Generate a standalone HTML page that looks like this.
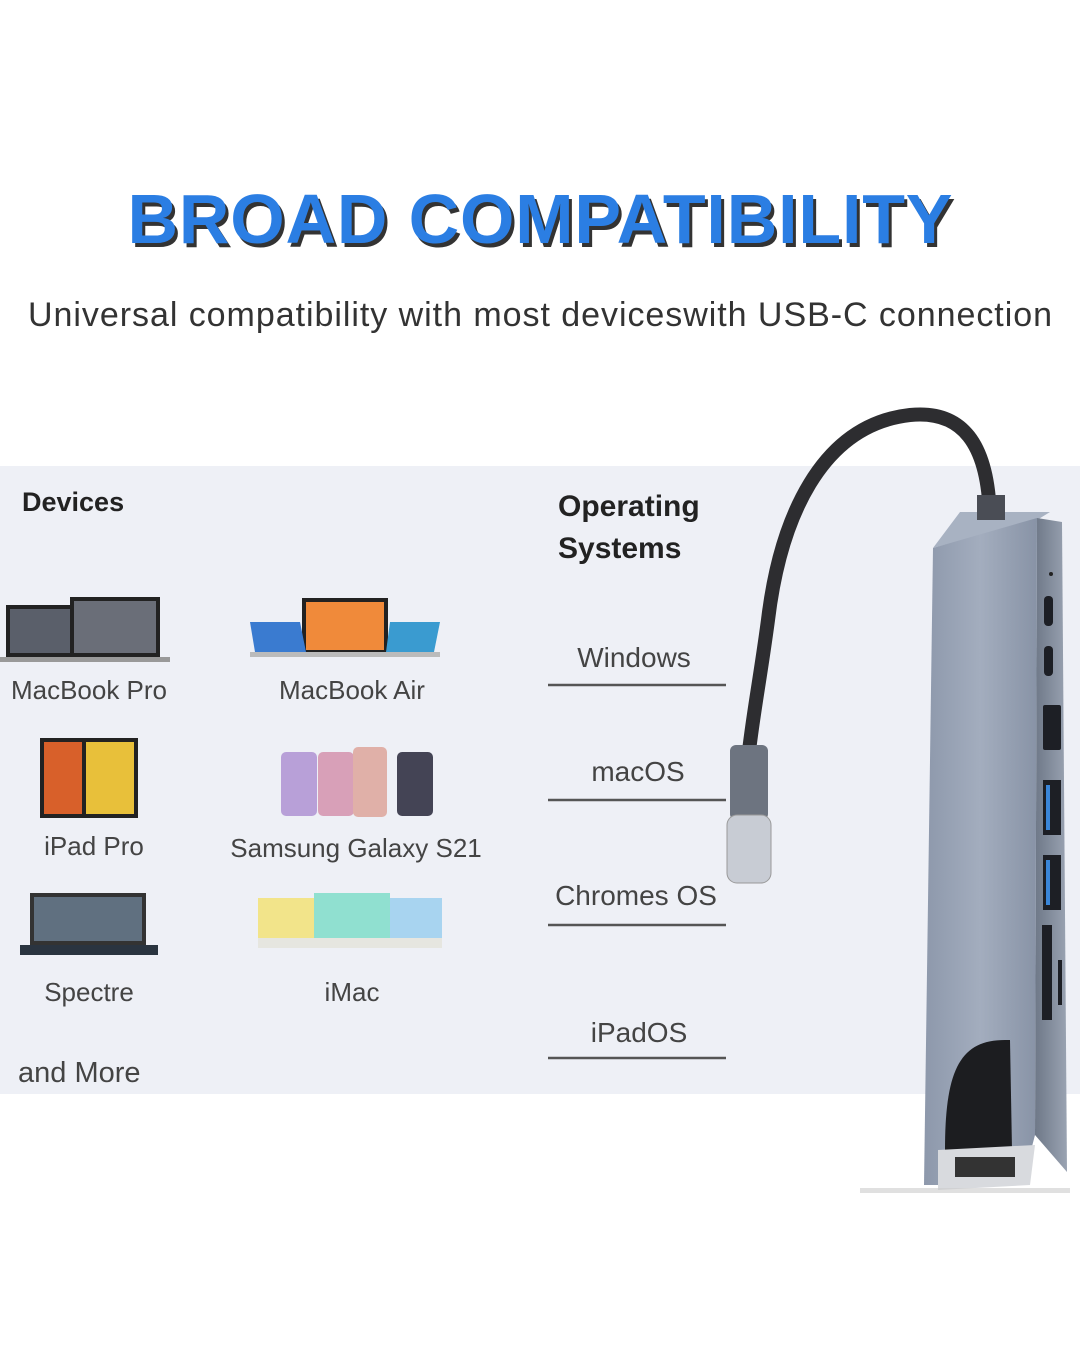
<!DOCTYPE html>
<html><head><meta charset="utf-8"><style>html,body{margin:0;padding:0;background:#fff}svg{display:block}</style></head>
<body>
<svg width="1080" height="1371" viewBox="0 0 1080 1371" xmlns="http://www.w3.org/2000/svg" font-family="Liberation Sans, sans-serif">
<defs>
<linearGradient id="hubf" x1="0" x2="1" y1="0" y2="0"><stop offset="0" stop-color="#8d98ab"/><stop offset="0.5" stop-color="#a3adbe"/><stop offset="1" stop-color="#8893a6"/></linearGradient>
<linearGradient id="hubs" x1="0" x2="1"><stop offset="0" stop-color="#6e7888"/><stop offset="1" stop-color="#9aa3b2"/></linearGradient>
</defs>
<rect width="1080" height="1371" fill="#fff"/>
<text x="543" y="247" text-anchor="middle" font-size="70" font-weight="bold" fill="#333" textLength="825">BROAD COMPATIBILITY</text>
<text x="540" y="243" text-anchor="middle" font-size="70" font-weight="bold" fill="#2b7ee3" textLength="825">BROAD COMPATIBILITY</text>
<text x="540" y="326" text-anchor="middle" font-size="34" fill="#333" textLength="1024">Universal compatibility with most deviceswith USB-C connection</text>
<rect x="0" y="466" width="1080" height="628" fill="#eef0f6"/>
<text x="22" y="511" font-size="27" font-weight="bold" fill="#222">Devices</text>
<text x="558" y="516" font-size="30" font-weight="bold" fill="#222">Operating</text>
<text x="558" y="558" font-size="30" font-weight="bold" fill="#222">Systems</text>
<g font-size="26" fill="#444">
<text x="89" y="699" text-anchor="middle">MacBook Pro</text>
<text x="352" y="699" text-anchor="middle">MacBook Air</text>
<text x="94" y="855" text-anchor="middle">iPad Pro</text>
<text x="356" y="857" text-anchor="middle">Samsung Galaxy S21</text>
<text x="89" y="1001" text-anchor="middle">Spectre</text>
<text x="352" y="1001" text-anchor="middle">iMac</text>
<text x="18" y="1082" font-size="29">and More</text>
<text x="634" y="667" text-anchor="middle" font-size="28">Windows</text>
<text x="638" y="781" text-anchor="middle" font-size="28">macOS</text>
<text x="636" y="905" text-anchor="middle" font-size="28">Chromes OS</text>
<text x="639" y="1042" text-anchor="middle" font-size="28">iPadOS</text>
</g>
<g stroke="#555" stroke-width="2.5"><line x1="548" y1="685" x2="726" y2="685"/><line x1="548" y1="800" x2="726" y2="800"/><line x1="548" y1="925" x2="726" y2="925"/><line x1="548" y1="1058" x2="726" y2="1058"/></g>
<!-- devices -->
<rect x="6" y="605" width="76" height="52" fill="#222"/><rect x="10" y="609" width="68" height="44" fill="#5a5f6a"/>
<rect x="70" y="597" width="90" height="60" fill="#222"/><rect x="74" y="601" width="82" height="52" fill="#6a6e78"/>
<rect x="0" y="657" width="170" height="5" fill="#999"/>
<rect x="302" y="598" width="86" height="56" fill="#222"/><rect x="306" y="602" width="78" height="48" fill="#f08a3a"/>
<polygon points="250,622 300,622 306,652 255,652" fill="#3a7bd0"/><polygon points="390,622 440,622 434,652 386,652" fill="#3a9bd0"/>
<rect x="250" y="652" width="190" height="5" fill="#bbb"/>
<rect x="40" y="738" width="46" height="80" fill="#222"/><rect x="44" y="742" width="38" height="72" fill="#d8602a"/>
<rect x="82" y="738" width="56" height="80" fill="#222"/><rect x="86" y="742" width="48" height="72" fill="#e8c03a"/>
<rect x="281" y="752" width="36" height="64" rx="5" fill="#b8a0d8"/><rect x="318" y="752" width="36" height="64" rx="5" fill="#d8a0b8"/>
<rect x="353" y="747" width="34" height="70" rx="5" fill="#e0b0a8"/><rect x="397" y="752" width="36" height="64" rx="5" fill="#445"/>
<rect x="30" y="893" width="116" height="52" fill="#333"/><rect x="34" y="897" width="108" height="44" fill="#607080"/>
<rect x="20" y="945" width="138" height="10" fill="#2a3440"/>
<rect x="258" y="898" width="56" height="40" fill="#f2e48a"/><rect x="314" y="893" width="76" height="45" fill="#90e0d0"/><rect x="390" y="898" width="52" height="40" fill="#a8d4f0"/>
<rect x="258" y="938" width="184" height="10" fill="#e6e6e0"/>
<!-- cable -->
<path d="M990 525 C990 440 960 410 910 415 C820 425 780 520 768 620 C760 680 752 720 748 760" fill="none" stroke="#2d2d30" stroke-width="14"/>
<rect x="730" y="745" width="38" height="75" rx="6" fill="#6d7480"/>
<rect x="727" y="815" width="44" height="68" rx="10" fill="#c8ccd4" stroke="#999"/>
<!-- hub -->
<polygon points="933,548 960,512 1050,512 1037,520" fill="#a8b2c2"/>
<rect x="977" y="495" width="28" height="25" fill="#4a4d55"/>
<polygon points="1037,518 1062,522 1067,1172 1035,1135" fill="url(#hubs)"/>
<polygon points="933,548 1037,518 1035,1135 1022,1185 924,1185" fill="url(#hubf)"/>
<g fill="#1d1f25"><rect x="1044" y="596" width="9" height="30" rx="4"/><rect x="1044" y="646" width="9" height="30" rx="4"/><rect x="1043" y="705" width="18" height="45" rx="2"/><rect x="1043" y="780" width="18" height="55" /><rect x="1043" y="855" width="18" height="55"/><rect x="1042" y="925" width="10" height="95"/><rect x="1058" y="960" width="4" height="45"/></g>
<rect x="1046" y="785" width="4" height="45" fill="#3a86d8"/><rect x="1046" y="860" width="4" height="45" fill="#3a86d8"/>
<circle cx="1051" cy="574" r="2" fill="#222"/>
<path d="M945 1150 C945 1070 960 1040 1005 1040 L1010 1040 L1012 1150 Z" fill="#1c1d20"/>
<polygon points="938,1150 1035,1145 1030,1185 938,1190" fill="#d8dade"/>
<rect x="955" y="1157" width="60" height="20" fill="#333"/>
<rect x="860" y="1188" width="210" height="5" fill="#ccc" opacity="0.6"/>
</svg>
</body></html>
